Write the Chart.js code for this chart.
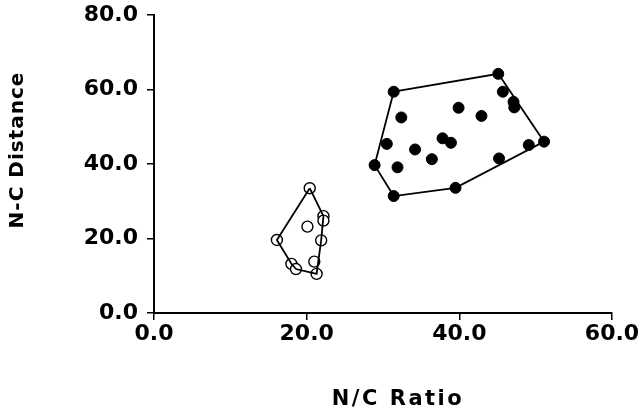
<!DOCTYPE html>
<html>
<head>
<meta charset="utf-8">
<script src="https://cdn.jsdelivr.net/npm/chart.js@4.4.1/dist/chart.umd.min.js"></script>
<style>
  html, body { margin: 0; padding: 0; background: #fff; }
  #wrap { width: 641px; height: 415px; }
</style>
</head>
<body>
<div id="wrap"><canvas id="c" width="641" height="415"></canvas></div>
<script>
// Group A (open circles): N/C ratio and N-C distance
const openRatio    = [20.4, 22.2, 22.2, 20.1, 21.9, 16.1, 21.0, 18.0, 18.6, 21.3];
const openDistance = [33.5, 26.0, 24.8, 23.2, 19.5, 19.6, 13.8, 13.2, 11.8, 10.5];

// Group B (filled circles)
const filledRatio    = [45.1, 31.4, 45.7, 47.1, 47.2, 39.9, 32.4, 42.9, 37.8, 38.9,
                        30.5, 34.2, 36.4, 49.1, 51.1, 45.2, 28.9, 31.9, 39.5, 31.4];
const filledDistance = [64.2, 59.4, 59.4, 56.7, 55.2, 55.1, 52.5, 52.9, 46.9, 45.7,
                        45.4, 43.9, 41.3, 45.1, 46.0, 41.5, 39.7, 39.1, 33.6, 31.4];

// Convex hull outlines, as indices into each group (closed polygons)
const openHull   = [0, 1, 4, 9, 8, 7, 5, 0];
const filledHull = [1, 0, 14, 18, 19, 16, 1];

const xTicks = [0, 20, 40, 60];
const yTicks = [0, 20, 40, 60, 80];

const xTitle = 'N/C Ratio';
const yTitle = 'N-C Distance';

const pts = (xs, ys) => xs.map((x, i) => ({ x, y: ys[i] }));
const hull = (idx, xs, ys) => idx.map(i => ({ x: xs[i], y: ys[i] }));

const FONT = "'DejaVu Sans', sans-serif";

// Axis titles drawn with a little extra tracking
const axisTitles = {
  id: 'axisTitles',
  afterDraw(chart) {
    const ctx = chart.ctx;
    const area = chart.chartArea;
    ctx.save();
    ctx.fillStyle = '#000';
    ctx.textAlign = 'center';
    ctx.textBaseline = 'middle';

    ctx.font = 'bold 21px ' + FONT;
    ctx.letterSpacing = '2.5px';
    ctx.fillText(xTitle, area.left + (area.right - area.left) / 2 + 15, 400);

    ctx.font = 'bold 20px ' + FONT;
    ctx.letterSpacing = '1px';
    ctx.translate(18, 150);
    ctx.rotate(-Math.PI / 2);
    ctx.fillText(yTitle, 0, 0);
    ctx.restore();
  }
};

new Chart(document.getElementById('c'), {
  type: 'scatter',
  data: {
    datasets: [
      {
        data: hull(openHull, openRatio, openDistance),
        showLine: true, borderColor: '#000', borderWidth: 1.8,
        pointRadius: 0, fill: false, tension: 0
      },
      {
        data: hull(filledHull, filledRatio, filledDistance),
        showLine: true, borderColor: '#000', borderWidth: 1.8,
        pointRadius: 0, fill: false, tension: 0
      },
      {
        data: pts(openRatio, openDistance),
        pointRadius: 5.5, pointBackgroundColor: '#fff',
        pointBorderColor: '#000', pointBorderWidth: 1.4
      },
      {
        data: pts(filledRatio, filledDistance),
        pointRadius: 5.5, pointBackgroundColor: '#000',
        pointBorderColor: '#000', pointBorderWidth: 1
      }
    ]
  },
  options: {
    responsive: false,
    animation: false,
    events: [],
    layout: { padding: { top: 15, right: 29, left: 0, bottom: 0 } },
    plugins: { legend: { display: false }, tooltip: { enabled: false } },
    scales: {
      x: {
        type: 'linear', min: 0, max: 60,
        afterBuildTicks: s => { s.ticks = xTicks.map(v => ({ value: v })); },
        afterFit: s => { s.height = 102; s.paddingLeft = 0; s.paddingRight = 0; },
        border: { display: true, color: '#000', width: 2 },
        grid: { drawOnChartArea: false, drawTicks: true, tickLength: 7, color: '#000', lineWidth: 1.5 },
        ticks: {
          color: '#000', padding: 1,
          font: { family: FONT, weight: 'bold', size: 22 },
          callback: v => v.toFixed(1)
        }
      },
      y: {
        type: 'linear', min: 0, max: 80,
        afterBuildTicks: s => { s.ticks = yTicks.map(v => ({ value: v })); },
        afterFit: s => { s.width = 154; s.paddingTop = 0; s.paddingBottom = 0; },
        border: { display: true, color: '#000', width: 2 },
        grid: { drawOnChartArea: false, drawTicks: true, tickLength: 7, color: '#000', lineWidth: 1.5 },
        ticks: {
          color: '#000', padding: 9,
          font: { family: FONT, weight: 'bold', size: 22 },
          callback: v => v.toFixed(1)
        }
      }
    }
  },
  plugins: [axisTitles]
});
</script>
</body>
</html>
